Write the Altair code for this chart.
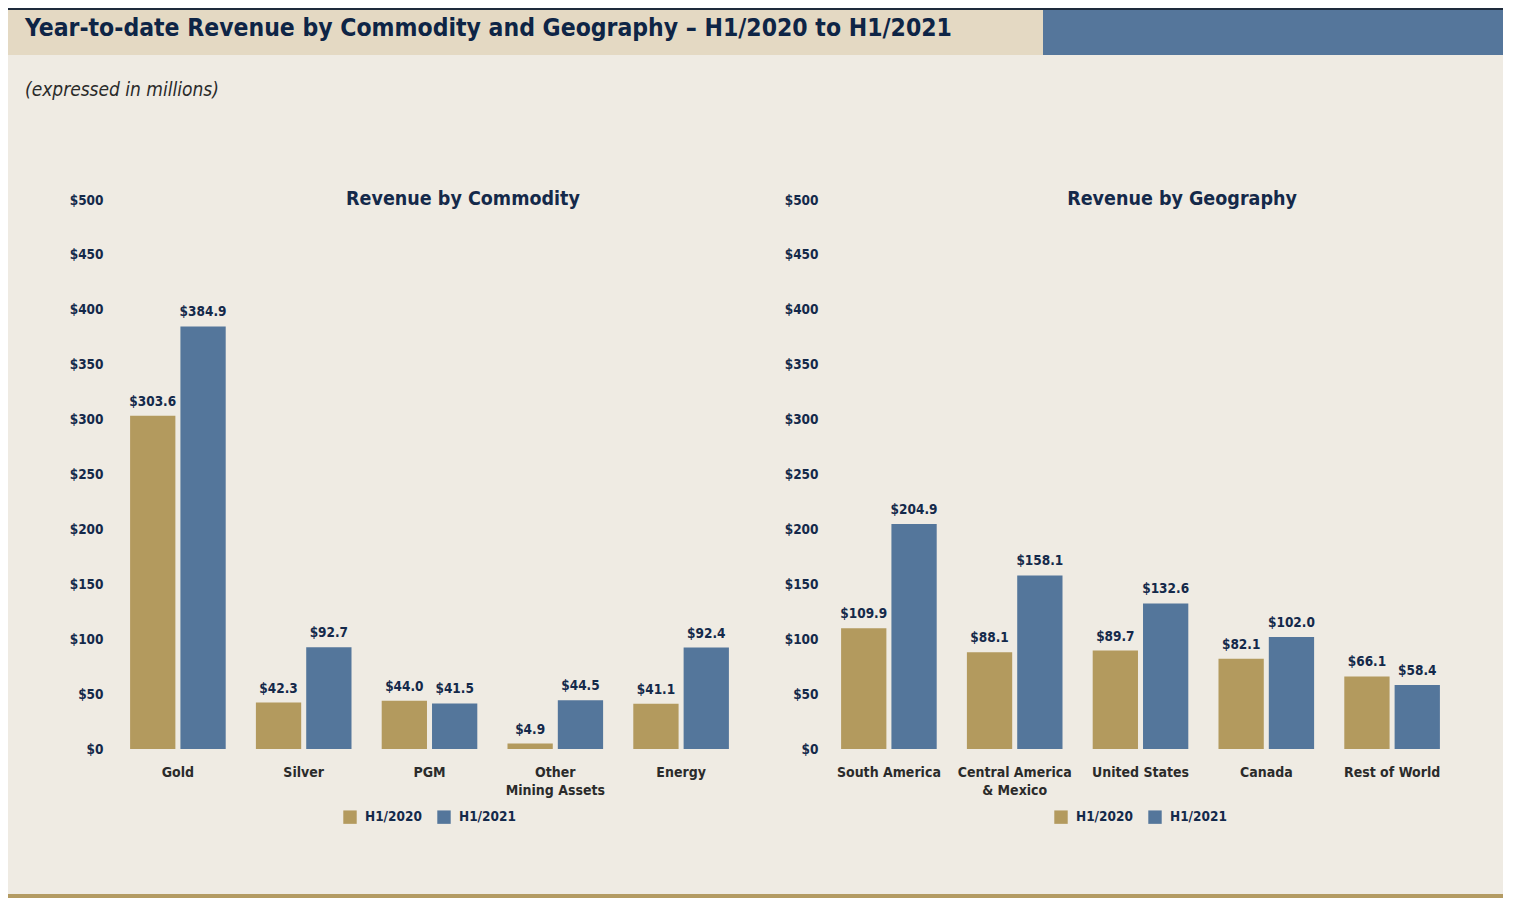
import altair as alt
import pandas as pd

# ---- data ----
periods = ["H1/2020", "H1/2021"]
commodities = ["Gold", "Silver", "PGM", "Other Mining Assets", "Energy"]
commodity_2020 = [303.6, 42.3, 44.0, 4.9, 41.1]
commodity_2021 = [384.9, 92.7, 41.5, 44.5, 92.4]
geographies = ["South America", "Central America & Mexico", "United States", "Canada", "Rest of World"]
geo_2020 = [109.9, 88.1, 89.7, 82.1, 66.1]
geo_2021 = [204.9, 158.1, 132.6, 102.0, 58.4]
y_ticks = [0, 50, 100, 150, 200, 250, 300, 350, 400, 450, 500]

main_title = "Year-to-date Revenue by Commodity and Geography \u2013 H1/2020 to H1/2021"
subtitle = "(expressed in millions)"

# ---- styles ----
GOLD = "#B39A5E"
BLUE = "#54769B"
NAVY = "#14294A"
BG = "#EFEBE3"
FONT = "DejaVu Sans Condensed, Roboto Condensed, Roboto, sans-serif"


def long_df(cats, a, b):
    rows = []
    for c, v1, v2 in zip(cats, a, b):
        rows.append({"cat": c, "period": periods[0], "value": v1})
        rows.append({"cat": c, "period": periods[1], "value": v2})
    return pd.DataFrame(rows)


label_expr = ("datum.label == 'Other Mining Assets' ? ['Other', 'Mining Assets'] : "
              "datum.label == 'Central America & Mexico' ? ['Central America', '& Mexico'] : datum.label")

H = 549  # plot height (page y 200 .. 749)


def panel(cats, a, b, title_text, title_x, y_label_pad, decorations=None):
    df = long_df(cats, a, b)
    base = alt.Chart(df).encode(
        x=alt.X("cat:N", sort=cats, title=None,
                scale=alt.Scale(paddingInner=0.24, paddingOuter=0.12),
                axis=alt.Axis(labelAngle=0, labelExpr=label_expr, domain=False, ticks=False,
                              labelPadding=16, labelFontSize=14, labelFont=FONT,
                              labelFontWeight="bold", labelColor="#2B2B2B", labelLineHeight=18,
                              labelBaseline="top")),
        xOffset=alt.XOffset("period:N", sort=periods,
                            scale=alt.Scale(paddingInner=0.1, paddingOuter=0)),
    )
    bars = base.mark_bar().encode(
        y=alt.Y("value:Q", title=None,
                scale=alt.Scale(domain=[0, 500], nice=False),
                axis=alt.Axis(values=y_ticks, labelExpr="'$' + datum.value", grid=False,
                              domain=False, ticks=False, labelPadding=y_label_pad,
                              labelFontSize=13.5, labelFont=FONT, labelFontWeight="bold",
                              labelColor=NAVY)),
        color=alt.Color("period:N", sort=periods, title=None,
                        scale=alt.Scale(domain=periods, range=[GOLD, BLUE]),
                        legend=alt.Legend(orient="none", direction="horizontal",
                                          legendX=228, legendY=610,
                                          symbolType="square", symbolSize=180,
                                          symbolStrokeWidth=0, symbolOpacity=1,
                                          labelFont=FONT, labelFontSize=13.5,
                                          labelFontWeight="bold", labelColor=NAVY,
                                          labelOffset=8, columnPadding=15)),
    )
    labels = base.mark_text(baseline="bottom", dy=-7, font=FONT, fontSize=13.5,
                            fontWeight="bold", color=NAVY).transform_calculate(
        lbl="'$' + format(datum.value, '.1f')"
    ).encode(y=alt.Y("value:Q"), text="lbl:N")

    t = alt.Chart(pd.DataFrame({"t": [title_text]})).mark_text(
        font=FONT, fontSize=19.5, fontWeight="bold", color=NAVY, align="center", baseline="middle"
    ).encode(text="t:N", x=alt.value(title_x), y=alt.value(-1))

    layers = []
    if decorations:
        layers.extend(decorations)
    layers.extend([bars, labels, t])
    return alt.layer(*layers).properties(width=629, height=H)


one = pd.DataFrame({"k": [0]})
# decorations positioned relative to left plot origin (page 115,200)
top_line = alt.Chart(one).mark_rect(color="#1E2B3C").encode(
    x=alt.value(-107), x2=alt.value(1388), y=alt.value(-192), y2=alt.value(-190))
band_beige = alt.Chart(one).mark_rect(color="#E4D9C3").encode(
    x=alt.value(-107), x2=alt.value(928), y=alt.value(-190), y2=alt.value(-145))
band_blue = alt.Chart(one).mark_rect(color="#55769B").encode(
    x=alt.value(928), x2=alt.value(1388), y=alt.value(-190), y2=alt.value(-145))
head_title = alt.Chart(pd.DataFrame({"t": [main_title]})).mark_text(
    font=FONT, fontSize=24.5, fontWeight="bold", color="#0E2546", align="left", baseline="middle"
).encode(text="t:N", x=alt.value(-90), y=alt.value(-171))
sub = alt.Chart(pd.DataFrame({"t": [subtitle]})).mark_text(
    font=FONT, fontSize=19, fontStyle="italic", color="#2A2A2A", align="left", baseline="middle"
).encode(text="t:N", x=alt.value(-90), y=alt.value(-110))
bottom_line = alt.Chart(one).mark_rect(color="#B39B63").encode(
    x=alt.value(-107), x2=alt.value(1388), y=alt.value(694), y2=alt.value(698))

left = panel(commodities, commodity_2020, commodity_2021, "Revenue by Commodity", 348, 12,
             decorations=[top_line, band_beige, band_blue, head_title, sub, bottom_line])
right = panel(geographies, geo_2020, geo_2021, "Revenue by Geography", 356, 8)

chart = alt.hconcat(left, right, spacing=82, bounds="flush").resolve_scale(
    color="independent", x="independent", xOffset="independent"
).resolve_legend(color="independent").properties(
    background=BG, padding=0
).configure_view(stroke=None)

chart.save("out.html", embed_options={"renderer": "svg", "actions": False})
